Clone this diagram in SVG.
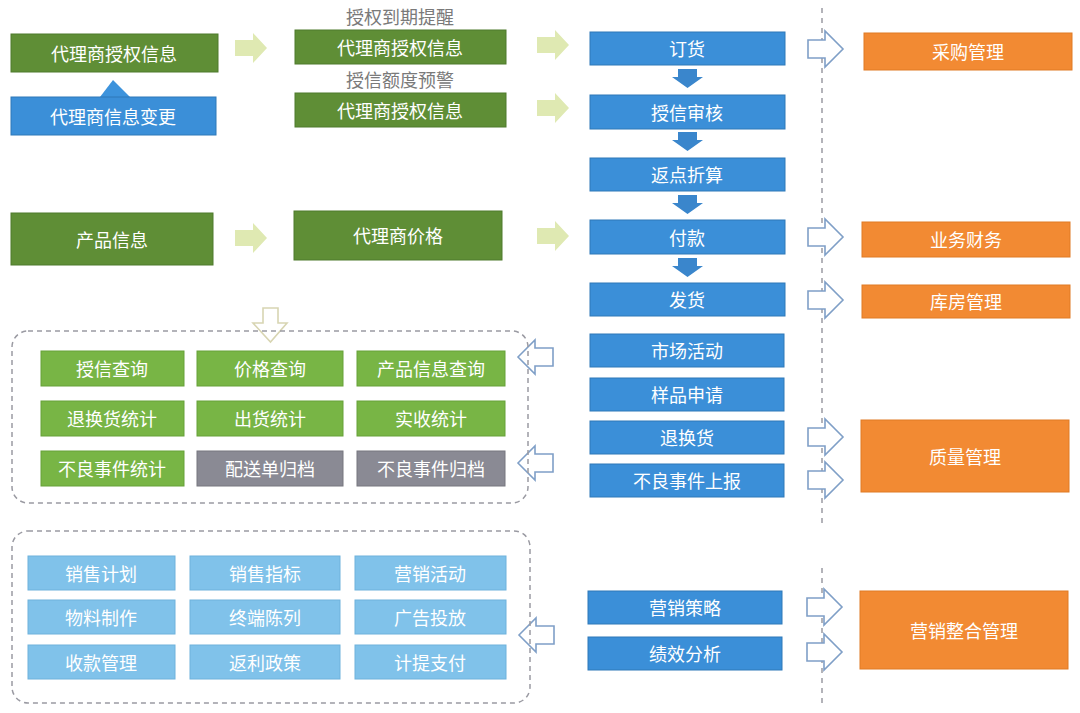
<svg xmlns="http://www.w3.org/2000/svg" width="1080" height="713" viewBox="0 0 1080 713">
<defs>
<style>
text{font-family:"Noto Sans CJK SC","Noto Sans",sans-serif;font-size:18px;fill:#fff;text-anchor:middle;dominant-baseline:central}
.dg{fill:#5f8e36;stroke:#4f7a2c;stroke-width:1}
.bl{fill:#3b8fd8;stroke:#2f78b8;stroke-width:1}
.or{fill:#f28a33;stroke:#e07a25;stroke-width:1}
.lg{fill:#78b545;stroke:#67a138;stroke-width:1}
.gy{fill:#8a8a94;stroke:#77777f;stroke-width:1}
.lb{fill:#80c2ea;stroke:#6eb2dc;stroke-width:1}
.lbl{fill:#7a7a7a}
.ga{fill:#dfe9b2}
.da{fill:#3a86cc}
.ha{fill:#fff;stroke:#7f9fc7;stroke-width:1.6;stroke-linejoin:miter}
.hk{fill:#fff;stroke:#d8d5b2;stroke-width:1.6}
.dash{fill:none;stroke:#9a9aa2;stroke-width:1.5;stroke-dasharray:5 4}
.vd{stroke:#9a9aa2;stroke-width:1.5;stroke-dasharray:5 5}
</style>
<path id="gar" d="M0,-8 H18 V-15 L32,0 L18,15 V8 H0 Z"/>
<path id="har" d="M0,-9 H17 V-18 L35,0 L17,18 V9 H0 Z"/>
<path id="hal" d="M0,0 L17,-17 V-9 H35 V9 H17 V17 Z"/>
<path id="dar" d="M6,0 H25 V8 H31 L15.5,19 L0,8 H6 Z"/>
</defs>

<g id="connectors">
<line class="vd" x1="822" y1="8" x2="822" y2="527"/>
<line class="vd" x1="822" y1="568" x2="822" y2="705"/>
<polygon points="100,97 113,80 130,97" fill="#3d93dc"/>
<use href="#gar" class="ga" x="235" y="48"/>
<use href="#gar" class="ga" x="235" y="238"/>
<use href="#gar" class="ga" x="537" y="45"/>
<use href="#gar" class="ga" x="537" y="108"/>
<use href="#gar" class="ga" x="537" y="236"/>
<use href="#dar" class="da" x="672" y="69"/>
<use href="#dar" class="da" x="672" y="132"/>
<use href="#dar" class="da" x="672" y="195"/>
<use href="#dar" class="da" x="672" y="258"/>
<use href="#har" class="ha" x="808" y="49"/>
<use href="#har" class="ha" x="808" y="237"/>
<use href="#har" class="ha" x="808" y="300"/>
<use href="#har" class="ha" x="808" y="437"/>
<use href="#har" class="ha" x="808" y="480"/>
<use href="#har" class="ha" x="807" y="607"/>
<use href="#har" class="ha" x="807" y="652"/>
<use href="#hal" class="ha" x="518" y="357"/>
<use href="#hal" class="ha" x="518" y="463"/>
<use href="#hal" class="ha" x="519" y="635"/>
<path class="hk" d="M263,308 H278 V323 H287 L270.5,342 L253,323 H263 Z"/>
</g>

<g id="labels">
<text class="lbl" x="400" y="16">授权到期提醒</text>
<text class="lbl" x="400" y="79">授信额度预警</text>
</g>

<g id="n-auth1"><rect class="dg" x="11" y="34" width="207" height="38"/><text x="114" y="53">代理商授权信息</text></g>
<g id="n-change"><rect class="bl" x="11" y="97" width="205" height="38"/><text x="113" y="116">代理商信息变更</text></g>
<g id="n-auth2"><rect class="dg" x="295" y="30" width="211" height="34"/><text x="400" y="47">代理商授权信息</text></g>
<g id="n-auth3"><rect class="dg" x="295" y="93" width="211" height="34"/><text x="400" y="110">代理商授权信息</text></g>
<g id="n-product"><rect class="dg" x="11" y="213" width="202" height="52"/><text x="112" y="239">产品信息</text></g>
<g id="n-price"><rect class="dg" x="294" y="211" width="208" height="49"/><text x="398" y="235">代理商价格</text></g>

<g id="n-order"><rect class="bl" x="590" y="32" width="195" height="33"/><text x="687" y="48">订货</text></g>
<g id="n-credit"><rect class="bl" x="590" y="95" width="195" height="34"/><text x="687" y="112">授信审核</text></g>
<g id="n-rebate"><rect class="bl" x="590" y="158" width="195" height="33"/><text x="687" y="174">返点折算</text></g>
<g id="n-pay"><rect class="bl" x="590" y="220" width="195" height="34"/><text x="687" y="237">付款</text></g>
<g id="n-ship"><rect class="bl" x="590" y="283" width="195" height="33"/><text x="687" y="299">发货</text></g>
<g id="n-market"><rect class="bl" x="590" y="334" width="194" height="33"/><text x="687" y="350">市场活动</text></g>
<g id="n-sample"><rect class="bl" x="590" y="378" width="194" height="33"/><text x="687" y="394">样品申请</text></g>
<g id="n-return"><rect class="bl" x="590" y="421" width="194" height="33"/><text x="687" y="437">退换货</text></g>
<g id="n-report"><rect class="bl" x="590" y="464" width="194" height="33"/><text x="687" y="480">不良事件上报</text></g>
<g id="n-strategy"><rect class="bl" x="588" y="591" width="194" height="33"/><text x="685" y="607">营销策略</text></g>
<g id="n-perf"><rect class="bl" x="588" y="637" width="194" height="33"/><text x="685" y="653">绩效分析</text></g>

<g id="n-purchase"><rect class="or" x="864" y="33" width="208" height="37"/><text x="968" y="51">采购管理</text></g>
<g id="n-finance"><rect class="or" x="862" y="222" width="208" height="35"/><text x="966" y="239">业务财务</text></g>
<g id="n-warehouse"><rect class="or" x="862" y="285" width="208" height="33"/><text x="966" y="301">库房管理</text></g>
<g id="n-quality"><rect class="or" x="861" y="420" width="208" height="72"/><text x="965" y="456">质量管理</text></g>
<g id="n-mkt"><rect class="or" x="860" y="591" width="208" height="78"/><text x="964" y="630">营销整合管理</text></g>

<g id="group-query">
<rect class="dash" x="12" y="331" width="516" height="172" rx="16"/>
<g id="q1"><rect class="lg" x="41" y="351" width="143" height="35"/><text x="112" y="368">授信查询</text></g>
<g id="q2"><rect class="lg" x="197" y="351" width="146" height="35"/><text x="270" y="368">价格查询</text></g>
<g id="q3"><rect class="lg" x="357" y="351" width="148" height="35"/><text x="431" y="368">产品信息查询</text></g>
<g id="q4"><rect class="lg" x="41" y="401" width="143" height="35"/><text x="112" y="418">退换货统计</text></g>
<g id="q5"><rect class="lg" x="197" y="401" width="146" height="35"/><text x="270" y="418">出货统计</text></g>
<g id="q6"><rect class="lg" x="357" y="401" width="148" height="35"/><text x="431" y="418">实收统计</text></g>
<g id="q7"><rect class="lg" x="41" y="451" width="143" height="35"/><text x="112" y="468">不良事件统计</text></g>
<g id="q8"><rect class="gy" x="197" y="451" width="146" height="35"/><text x="270" y="468">配送单归档</text></g>
<g id="q9"><rect class="gy" x="357" y="451" width="148" height="35"/><text x="431" y="468">不良事件归档</text></g>
</g>

<g id="group-marketing">
<rect class="dash" x="12" y="531" width="518" height="172" rx="16"/>
<g id="m1"><rect class="lb" x="28" y="556" width="147" height="34"/><text x="101" y="573">销售计划</text></g>
<g id="m2"><rect class="lb" x="190" y="556" width="150" height="34"/><text x="265" y="573">销售指标</text></g>
<g id="m3"><rect class="lb" x="355" y="556" width="151" height="34"/><text x="430" y="573">营销活动</text></g>
<g id="m4"><rect class="lb" x="28" y="600" width="147" height="34"/><text x="101" y="617">物料制作</text></g>
<g id="m5"><rect class="lb" x="190" y="600" width="150" height="34"/><text x="265" y="617">终端陈列</text></g>
<g id="m6"><rect class="lb" x="355" y="600" width="151" height="34"/><text x="430" y="617">广告投放</text></g>
<g id="m7"><rect class="lb" x="28" y="645" width="147" height="34"/><text x="101" y="662">收款管理</text></g>
<g id="m8"><rect class="lb" x="190" y="645" width="150" height="34"/><text x="265" y="662">返利政策</text></g>
<g id="m9"><rect class="lb" x="355" y="645" width="151" height="34"/><text x="430" y="662">计提支付</text></g>
</g>
</svg>
